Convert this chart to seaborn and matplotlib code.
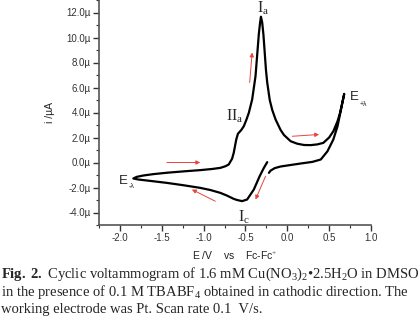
import seaborn as sns
import numpy as np
import matplotlib.pyplot as plt
import pandas as pd
from matplotlib.ticker import MultipleLocator

# cyclic voltammogram (E in V vs Fc, i in uA), scan order
E_V = [-0.24, -0.28, -0.33, -0.40, -0.48, -0.54, -0.60, -0.64, -0.72, -0.80,
       -0.92, -1.04, -1.24, -1.44, -1.64, -1.78, -1.84, -1.80, -1.72, -1.60,
       -1.44, -1.24, -1.04, -0.90, -0.80, -0.74, -0.70, -0.66, -0.64, -0.61,
       -0.59, -0.57, -0.55, -0.52, -0.49, -0.46, -0.42, -0.38, -0.36, -0.34,
       -0.325, -0.315, -0.30, -0.285, -0.27, -0.255, -0.24, -0.21, -0.18, -0.14,
       -0.08, -0.04, 0.04, 0.12, 0.20, 0.28, 0.36, 0.43, 0.50, 0.55,
       0.60, 0.63, 0.68, 0.65, 0.60, 0.55, 0.48, 0.40, 0.30, 0.16,
       0.04, -0.08, -0.15, -0.20, -0.22]
I_uA = [0.03, -0.43, -1.09, -2.16, -2.96, -3.09, -3.00, -2.91, -2.65, -2.43,
        -2.20, -2.03, -1.82, -1.63, -1.47, -1.36, -1.28, -1.15, -1.04, -0.93,
        -0.82, -0.71, -0.61, -0.52, -0.43, -0.30, -0.16, 0.30, 0.78, 1.84,
        2.30, 2.45, 2.60, 2.90, 3.40, 3.97, 5.04, 6.90, 8.60, 10.30,
        11.20, 11.66, 11.20, 10.20, 8.80, 7.40, 6.40, 5.00, 4.20, 3.44,
        2.60, 2.20, 1.70, 1.50, 1.40, 1.39, 1.45, 1.57, 2.00, 2.50,
        3.30, 3.97, 5.49, 4.50, 2.90, 1.84, 0.90, 0.24, 0.05, -0.08,
        -0.20, -0.32, -0.45, -0.65, -0.83]

# scan direction arrows: (tail E, tail i, head E, head i)
arrows = [(-1.44, 0.0, -1.04, 0.0),
          (-0.86, -3.1, -1.14, -2.16),
          (-0.26, -1.1, -0.38, -2.96),
          (-0.45, 6.4, -0.42, 8.8),
          (0.06, 2.1, 0.38, 2.24)]

x_ticks = [-2.0, -1.5, -1.0, -0.5, 0.0, 0.5, 1.0]
x_labels = ['-2.0', '-1.5', '-1.0', '-0.5', '0.0', '0.5', '1.0']
y_ticks = [-4, -2, 0, 2, 4, 6, 8, 10, 12]
y_labels = ['-4.0µ', '-2.0µ', '0.0µ', '2.0µ', '4.0µ', '6.0µ', '8.0µ', '10.0µ', '12.0µ']

sns.set_style("ticks")
plt.rcParams['font.family'] = ['Liberation Sans', 'DejaVu Sans']
plt.rcParams['mathtext.fontset'] = 'custom'
plt.rcParams['mathtext.rm'] = 'Liberation Serif'
plt.rcParams['mathtext.it'] = 'Liberation Serif:italic'
plt.rcParams['mathtext.bf'] = 'Liberation Serif:bold'

fig = plt.figure(figsize=(4.2, 3.27), dpi=100)
ax = fig.add_axes([99/420, 102/327, 272/420, 225/327])

df = pd.DataFrame({'E': E_V, 'i': I_uA})
sns.lineplot(data=df, x='E', y='i', sort=False, estimator=None,
             color='black', lw=1.6, ax=ax)

for x0, y0, x1, y1 in arrows:
    ax.annotate('', xy=(x1, y1), xytext=(x0, y0),
                arrowprops=dict(arrowstyle='-|>', color='#e8453c', lw=0.7,
                                mutation_scale=6, shrinkA=0, shrinkB=0))

ax.set_xlim(-2.25, 1.0)
ax.set_ylim(-5.0, 13.0)
ax.set_xticks(x_ticks)
ax.set_xticklabels(x_labels)
ax.set_yticks(y_ticks)
ax.set_yticklabels(y_labels)
ax.xaxis.set_minor_locator(MultipleLocator(0.25))
ax.yaxis.set_minor_locator(MultipleLocator(1.0))
ax.tick_params(which='major', length=4, width=1.0, labelsize=7, colors='#333333', pad=2)
ax.tick_params(which='minor', length=2, width=0.8, colors='#333333')
sns.despine(ax=ax)
for s in ['left', 'bottom']:
    ax.spines[s].set_color('#555555')
    ax.spines[s].set_linewidth(1.2)

ax.set_xlabel('E /V    vs    Fc-Fc$^{+}$', fontsize=7.5, color='#222222', labelpad=4)
ax.set_ylabel('i /µA', fontsize=7.5, color='#222222', labelpad=8)

# peak labels
ax.text(-0.29, 12.0, r'$\mathrm{I}_{\mathrm{a}}$', fontsize=11.5, ha='center', va='baseline')
ax.text(-0.63, 3.0, r'$\mathrm{II}_{\mathrm{a}}$', fontsize=11.5, ha='center', va='bottom')
ax.text(-0.52, -3.7, r'$\mathrm{I}_{\mathrm{c}}$', fontsize=11.5, ha='center', va='top')
ax.text(-1.96, -1.5, 'E', fontsize=9.5, ha='center', va='center')
ax.text(-1.90, -1.95, '-λ', fontsize=5, ha='left', va='center')
ax.text(0.80, 5.2, 'E', fontsize=9.5, ha='center', va='center')
ax.text(0.86, 4.65, '+λ', fontsize=5, ha='left', va='center')

# caption
cap = dict(fontsize=10.5, family='Liberation Serif', ha='left', va='center')
fig.text(0.003, 1 - 274/327,
         r'$\mathbf{Fig.\ 2.}$ Cyclic voltammogram of 1.6 mM Cu(NO$_3$)$_2$•2.5H$_2$O in DMSO', **cap)
fig.text(0.003, 1 - 292/327,
         r'in the presence of 0.1 M TBABF$_4$ obtained in cathodic direction. The', **cap)
fig.text(0.003, 1 - 309/327,
         'working electrode was Pt. Scan rate 0.1  V/s.', **cap)

fig.savefig('out.png', dpi=100)
